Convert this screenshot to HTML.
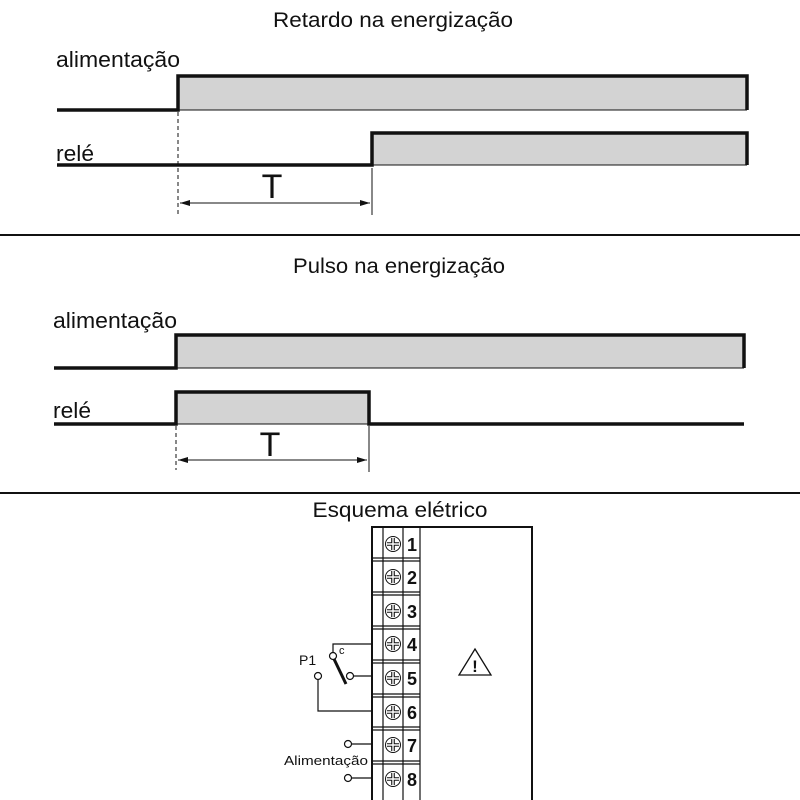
<!DOCTYPE html>
<html><head><meta charset="utf-8"><style>
html,body{margin:0;padding:0;background:#fff}
svg{display:block}
text{font-family:"Liberation Sans",sans-serif;fill:#111}
</style></head><body>
<svg width="800" height="800" viewBox="0 0 800 800" xmlns="http://www.w3.org/2000/svg">
<defs>
<marker id="a" markerWidth="10" markerHeight="6" refX="10" refY="3" orient="auto-start-reverse" markerUnits="userSpaceOnUse">
<path d="M0,0 L10,3 L0,6 z" fill="#111"/></marker>
<g id="screw"><circle r="7.5" fill="#fff" stroke="#111" stroke-width="1"/><path d="M-6,0 H6 M0,-6 V6" stroke="#111" stroke-width="3.6"/><path d="M-6,0 H6 M0,-6 V6" stroke="#fff" stroke-width="1.4"/></g>
</defs>
<!-- Section 1 -->
<text x="393" y="27" font-size="21" text-anchor="middle" textLength="240" lengthAdjust="spacingAndGlyphs">Retardo na energização</text>
<text x="56" y="67" font-size="22" textLength="124" lengthAdjust="spacingAndGlyphs">alimentação</text>
<rect x="178" y="76" width="569" height="34" fill="#d3d3d3"/>
<path d="M57,110 H178 V76 H747 V110" fill="none" stroke="#111" stroke-width="3.5"/>
<path d="M178,110 H747" stroke="#111" stroke-width="1"/>
<text x="56" y="161" font-size="22" textLength="38" lengthAdjust="spacingAndGlyphs">relé</text>
<rect x="372" y="133" width="375" height="32" fill="#d3d3d3"/>
<path d="M57,165 H372 V133 H747 V165" fill="none" stroke="#111" stroke-width="3.5"/>
<path d="M372,165 H747" stroke="#111" stroke-width="1"/>
<path d="M178,112 V215" stroke="#111" stroke-width="1" stroke-dasharray="4,3"/>
<path d="M372,168 V215" stroke="#111" stroke-width="1"/>
<path d="M180,203 H370" stroke="#111" stroke-width="1" marker-start="url(#a)" marker-end="url(#a)"/>
<text x="272" y="198" font-size="34" text-anchor="middle">T</text>
<path d="M0,235 H800" stroke="#111" stroke-width="2"/>
<!-- Section 2 -->
<text x="399" y="273" font-size="21" text-anchor="middle" textLength="212" lengthAdjust="spacingAndGlyphs">Pulso na energização</text>
<text x="53" y="328" font-size="22" textLength="124" lengthAdjust="spacingAndGlyphs">alimentação</text>
<rect x="176" y="335" width="568" height="33" fill="#d3d3d3"/>
<path d="M54,368 H176 V335 H744 V368" fill="none" stroke="#111" stroke-width="3.5"/>
<path d="M176,368 H744" stroke="#111" stroke-width="1"/>
<text x="53" y="418" font-size="22" textLength="38" lengthAdjust="spacingAndGlyphs">relé</text>
<rect x="176" y="392" width="193" height="32" fill="#d3d3d3"/>
<path d="M54,424 H176 V392 H369 V424 H744" fill="none" stroke="#111" stroke-width="3.5"/>
<path d="M176,424 H369" stroke="#111" stroke-width="1"/>
<path d="M176,426 V470" stroke="#111" stroke-width="1" stroke-dasharray="4,3"/>
<path d="M369,426 V472" stroke="#111" stroke-width="1"/>
<path d="M178,460 H367" stroke="#111" stroke-width="1" marker-start="url(#a)" marker-end="url(#a)"/>
<text x="270" y="456" font-size="34" text-anchor="middle">T</text>
<path d="M0,493 H800" stroke="#111" stroke-width="2"/>
<!-- Section 3 -->
<text x="400" y="517" font-size="21" text-anchor="middle" textLength="175" lengthAdjust="spacingAndGlyphs">Esquema elétrico</text>
<path d="M372,800 V527 H532 V800" fill="none" stroke="#111" stroke-width="2"/>
<g stroke="#111" stroke-width="1.2" fill="none">
<path d="M383,527 V800 M403,527 V800 M420,527 V800"/>
<path d="M372,558 H420 M372,561 H420 M372,592 H420 M372,595 H420 M372,626 H420 M372,629 H420 M372,660 H420 M372,663 H420 M372,694 H420 M372,697 H420 M372,727 H420 M372,730 H420 M372,761 H420 M372,764 H420"/>
</g>
<g>
<use href="#screw" x="393" y="544"/><use href="#screw" x="393" y="577"/><use href="#screw" x="393" y="611"/><use href="#screw" x="393" y="644"/><use href="#screw" x="393" y="678"/><use href="#screw" x="393" y="712"/><use href="#screw" x="393" y="745"/><use href="#screw" x="393" y="779"/>
</g>
<g font-size="18" font-weight="bold" text-anchor="middle">
<text x="412" y="551">1</text><text x="412" y="584">2</text><text x="412" y="618">3</text><text x="412" y="651">4</text><text x="412" y="685">5</text><text x="412" y="719">6</text><text x="412" y="752">7</text><text x="412" y="786">8</text>
</g>
<path d="M475,649 L491,675 H459 Z" fill="none" stroke="#111" stroke-width="1.3"/>
<text x="475" y="672" font-size="17" font-weight="bold" text-anchor="middle">!</text>
<g stroke="#111" stroke-width="1.2" fill="none">
<path d="M333,652 V644 H372"/>
<circle cx="333" cy="656" r="3.5" fill="#fff"/>
<path d="M354,676 H372"/>
<circle cx="350" cy="676" r="3.5" fill="#fff"/>
<circle cx="318" cy="676" r="3.5" fill="#fff"/>
<path d="M318,680 V711 H372"/>
<path d="M352,744 H372 M352,778 H372"/>
<circle cx="348" cy="744" r="3.5" fill="#fff"/>
<circle cx="348" cy="778" r="3.5" fill="#fff"/>
</g>
<path d="M334,659 L346,684" stroke="#111" stroke-width="3"/>
<text x="339" y="654" font-size="11">c</text>
<text x="299" y="665" font-size="14">P1</text>
<text x="284" y="765" font-size="13" textLength="84" lengthAdjust="spacingAndGlyphs">Alimentação</text>
</svg>
</body></html>
